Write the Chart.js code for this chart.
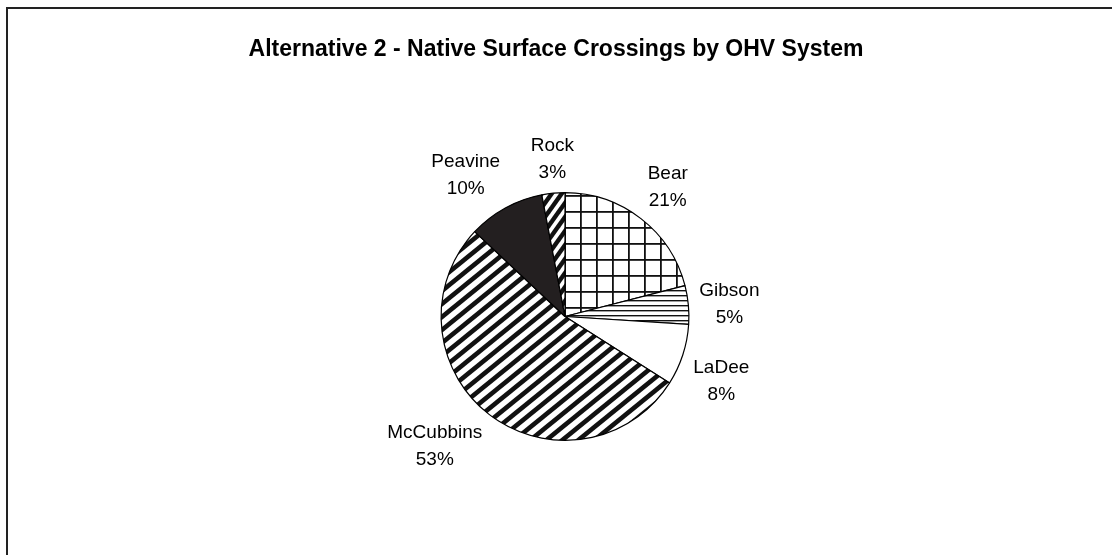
<!DOCTYPE html>
<html>
<head>
<meta charset="utf-8">
<script src="https://cdn.jsdelivr.net/npm/chart.js@4"></script>
<style>
  html, body { margin: 0; padding: 0; background: #fff; overflow: hidden; }
  #chart { display: block; }
</style>
</head>
<body>
<canvas id="chart" width="1112" height="555"></canvas>
<script>
const titleText = 'Alternative 2 - Native Surface Crossings by OHV System';
const systems = ['Bear', 'Gibson', 'LaDee', 'McCubbins', 'Peavine', 'Rock'];
const shares = [21, 5, 8, 53, 10, 3]; // percent

const canvas = document.getElementById('chart');
const ctx = canvas.getContext('2d');

function makePattern(w, h, draw) {
  const c = document.createElement('canvas');
  c.width = w;
  c.height = h;
  const g = c.getContext('2d');
  g.fillStyle = '#fff';
  g.fillRect(0, 0, w, h);
  g.fillStyle = '#111';
  g.strokeStyle = '#111';
  draw(g, w, h);
  return ctx.createPattern(c, 'repeat');
}

// "/" stripes; each line is extended past the tile so the wrap has no seams
function diagonal(w, h, lw) {
  return makePattern(w, h, (g) => {
    g.lineWidth = lw;
    for (const o of [-2 * w, -w, 0, w, 2 * w]) {
      g.beginPath();
      g.moveTo(o - w, 2 * h);
      g.lineTo(o + 2 * w, -h);
      g.stroke();
    }
  });
}

const fills = [
  makePattern(16, 16, (g) => { g.fillRect(4, 0, 1.8, 16); g.fillRect(0, 3, 16, 1.8); }), // grid
  makePattern(8, 5, (g) => { g.fillRect(0, 0, 8, 1.4); }),                                 // horizontal
  '#ffffff',
  diagonal(16, 13, 4.6),
  '#231f20',
  diagonal(10, 14, 4.4)
];

// frame, title and outside labels
const decor = {
  id: 'decor',
  beforeDraw(chart) {
    const c = chart.ctx;
    c.save();
    c.fillStyle = '#222';
    c.fillRect(6, 7, 1106, 2);
    c.fillRect(6, 7, 2, 548);
    c.restore();
  },
  afterDatasetsDraw(chart) {
    const c = chart.ctx;

    c.save();
    c.fillStyle = '#000';
    c.font = 'bold 23px "Liberation Sans", Arial, sans-serif';
    c.textAlign = 'center';
    c.textBaseline = 'middle';
    c.fillText(titleText, 556, 50);
    c.restore();

    const meta = chart.getDatasetMeta(0);
    const lineGap = 27;
    const textH = 19;
    const gap = 11;
    c.save();
    c.font = '19px "Liberation Sans", Arial, sans-serif';
    c.fillStyle = '#000';
    c.textBaseline = 'middle';
    c.textAlign = 'center';
    meta.data.forEach((arc, i) => {
      const p = arc.getProps(['x', 'y', 'startAngle', 'endAngle', 'outerRadius'], true);
      const mid = (p.startAngle + p.endAngle) / 2;
      const dx = Math.cos(mid), dy = Math.sin(mid);
      const ax = p.x + dx * (p.outerRadius + gap);
      const ay = p.y + dy * (p.outerRadius + gap);
      const lines = [systems[i], shares[i] + '%'];
      const w = Math.max(...lines.map(t => c.measureText(t).width));
      const h = lineGap + textH;
      let cx = ax, top = ay - h / 2;
      if (dx > 0.3) cx = ax + w / 2;
      else if (dx < -0.3) cx = ax - w / 2;
      if (dy < -0.3) top = ay - h;
      else if (dy > 0.3) top = ay;
      lines.forEach((t, k) => c.fillText(t, cx, top + textH / 2 + k * lineGap));
    });
    c.restore();
  }
};

new Chart(ctx, {
  type: 'pie',
  data: {
    labels: systems,
    datasets: [{
      data: shares,
      backgroundColor: fills,
      borderColor: '#000',
      borderWidth: 1.2
    }]
  },
  options: {
    responsive: false,
    devicePixelRatio: 1,
    animation: false,
    layout: { padding: { top: 192, bottom: 114, left: 300, right: 282 } },
    plugins: {
      legend: { display: false },
      tooltip: { enabled: false },
      title: { display: false }
    }
  },
  plugins: [decor]
});
</script>
</body>
</html>
